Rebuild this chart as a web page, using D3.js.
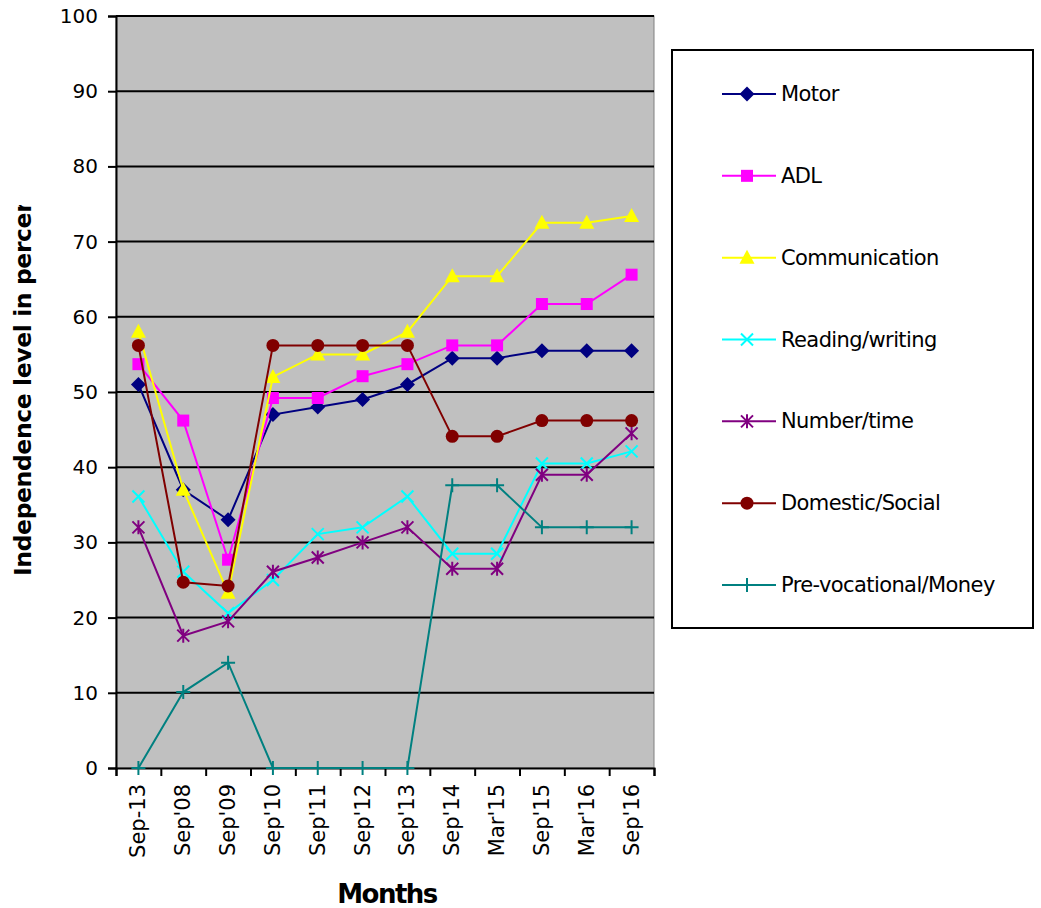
<!DOCTYPE html>
<html>
<head>
<meta charset="utf-8">
<script src="https://cdn.jsdelivr.net/npm/d3@7"></script>
<style>
  body { margin: 0; background: #fff; }
  text { font-family: "DejaVu Sans", Verdana, sans-serif; }
</style>
</head>
<body>
<div id="chart"></div>
<script>
// data
const months = ["Sep-13", "Sep'08", "Sep'09", "Sep'10", "Sep'11", "Sep'12", "Sep'13",
                "Sep'14", "Mar'15", "Sep'15", "Mar'16", "Sep'16"];
const seriesNames = ["Motor", "ADL", "Communication", "Reading/writing",
                     "Number/time", "Domestic/Social", "Pre-vocational/Money"];
const motor         = [51, 37, 33, 47, 48, 49, 51, 54.5, 54.5, 55.5, 55.5, 55.5];
const adl           = [53.7, 46.2, 27.7, 49.2, 49.2, 52.1, 53.7, 56.2, 56.2, 61.7, 61.7, 65.6];
const communication = [58, 37, 23.3, 52, 55, 55, 58, 65.4, 65.4, 72.5, 72.5, 73.4];
const reading       = [36.1, 26.1, 20.6, 25, 31.1, 32, 36.1, 28.5, 28.5, 40.5, 40.5, 42.1];
const numberTime    = [32, 17.6, 19.5, 26.1, 28, 30, 32, 26.5, 26.5, 39, 39, 44.5];
const domestic      = [56.2, 24.7, 24.2, 56.2, 56.2, 56.2, 56.2, 44.1, 44.1, 46.2, 46.2, 46.2];
const prevoc        = [0, 10.1, 14, 0, 0, 0, 0, 37.6, 37.6, 32, 32, 32];
const yTicks = [0, 10, 20, 30, 40, 50, 60, 70, 80, 90, 100];

const allValues = [motor, adl, communication, reading, numberTime, domestic, prevoc];
const colors = ["#000080", "#FF00FF", "#FFFF00", "#00FFFF", "#800080", "#800000", "#008080"];
const markers = ["diamond", "square", "triangle", "x", "star", "circle", "plus"];

const W = 1041, H = 908;
const plotL = 116, plotR = 654, plotT = 16, plotB = 768;

const svg = d3.select("#chart").append("svg")
  .attr("width", W).attr("height", H);

const x = d3.scaleBand().domain(months).range([plotL, plotR]);
const xIdx = d3.scaleLinear().domain([0, months.length]).range([plotL, plotR]);
const y = d3.scaleLinear().domain([0, 100]).range([plotB, plotT]);
const cx = m => x(m) + x.bandwidth() / 2;

// plot background
svg.append("rect")
  .attr("x", plotL).attr("y", plotT)
  .attr("width", plotR - plotL).attr("height", plotB - plotT)
  .attr("fill", "#C0C0C0")
  .attr("stroke", "#808080").attr("stroke-width", 1);

// gridlines
svg.append("g").selectAll("line")
  .data(yTicks.filter(t => t > 0))
  .join("line")
  .attr("x1", plotL).attr("x2", plotR)
  .attr("y1", d => y(d)).attr("y2", d => y(d))
  .attr("stroke", "#000").attr("stroke-width", 2);

// y axis
const yAxis = svg.append("g")
  .attr("transform", `translate(${plotL},0)`)
  .call(d3.axisLeft(y).tickValues(yTicks).tickSize(8).tickPadding(10));
yAxis.select(".domain").attr("stroke", "#000").attr("stroke-width", 2);
yAxis.selectAll(".tick line").attr("stroke", "#000").attr("stroke-width", 2);
yAxis.selectAll(".tick text").attr("font-size", 20).attr("fill", "#000")
  .attr("font-family", "DejaVu Sans, sans-serif");

// x axis: ticks at category boundaries
const xAxis = svg.append("g")
  .attr("transform", `translate(0,${plotB})`)
  .call(d3.axisBottom(xIdx).tickValues(d3.range(months.length + 1)).tickSize(8).tickFormat(""));
xAxis.select(".domain").attr("stroke", "#000").attr("stroke-width", 2);
xAxis.selectAll(".tick line").attr("stroke", "#000").attr("stroke-width", 2);

// x labels
svg.append("g").selectAll("text")
  .data(months)
  .join("text")
  .attr("transform", d => `translate(${cx(d) + 7},${plotB + 16}) rotate(-90)`)
  .attr("text-anchor", "end")
  .attr("font-size", 21)
  .attr("fill", "#000")
  .text(d => d);

// series lines and markers
const line = d3.line().x((d, i) => cx(months[i])).y(d => y(d));

function drawMarker(g, type, color, px, py) {
  if (type === "diamond") {
    g.append("path").attr("d", `M${px},${py - 7.5}L${px + 7.5},${py}L${px},${py + 7.5}L${px - 7.5},${py}Z`)
      .attr("fill", color);
  } else if (type === "square") {
    g.append("rect").attr("x", px - 6).attr("y", py - 6).attr("width", 12).attr("height", 12)
      .attr("fill", color);
  } else if (type === "triangle") {
    g.append("path").attr("d", `M${px},${py - 8}L${px + 7.5},${py + 6}L${px - 7.5},${py + 6}Z`)
      .attr("fill", color);
  } else if (type === "circle") {
    g.append("circle").attr("cx", px).attr("cy", py).attr("r", 6.5).attr("fill", color);
  } else if (type === "x") {
    g.append("path").attr("d", `M${px - 6},${py - 6}L${px + 6},${py + 6}M${px - 6},${py + 6}L${px + 6},${py - 6}`)
      .attr("stroke", color).attr("stroke-width", 2).attr("fill", "none");
  } else if (type === "star") {
    g.append("path").attr("d", `M${px - 6},${py - 6}L${px + 6},${py + 6}M${px - 6},${py + 6}L${px + 6},${py - 6}M${px},${py - 7}L${px},${py + 7}`)
      .attr("stroke", color).attr("stroke-width", 2).attr("fill", "none");
  } else if (type === "plus") {
    g.append("path").attr("d", `M${px - 7},${py}L${px + 7},${py}M${px},${py - 7}L${px},${py + 7}`)
      .attr("stroke", color).attr("stroke-width", 2).attr("fill", "none");
  }
}

allValues.forEach((vals, s) => {
  const g = svg.append("g");
  g.append("path")
    .datum(vals)
    .attr("d", line)
    .attr("fill", "none")
    .attr("stroke", colors[s])
    .attr("stroke-width", 2);
  vals.forEach((v, i) => drawMarker(g, markers[s], colors[s], cx(months[i]), y(v)));
});

// axis titles
svg.append("text")
  .attr("x", 387).attr("y", 903)
  .attr("text-anchor", "middle")
  .attr("font-size", 26).attr("font-weight", "bold")
  .attr("letter-spacing", -1.5)
  .attr("fill", "#000")
  .text("Months");

svg.append("clipPath").attr("id", "yclip")
  .append("rect").attr("x", 0).attr("y", 205).attr("width", 60).attr("height", 400);
svg.append("g")
  .attr("clip-path", "url(#yclip)")
  .append("text")
  .attr("transform", "translate(31,576) rotate(-90)")
  .attr("text-anchor", "start")
  .attr("font-size", 23.5).attr("font-weight", "bold")
  .attr("letter-spacing", -0.4)
  .attr("fill", "#000")
  .text("Independence level in percentage");

// legend
const legend = svg.append("g");
legend.append("rect")
  .attr("x", 672).attr("y", 50).attr("width", 361).attr("height", 578)
  .attr("fill", "#fff").attr("stroke", "#000").attr("stroke-width", 2);
const legendY = d3.scalePoint().domain(seriesNames).range([94, 585]);
seriesNames.forEach((name, s) => {
  const ly = legendY(name);
  legend.append("line")
    .attr("x1", 722).attr("x2", 776).attr("y1", ly).attr("y2", ly)
    .attr("stroke", colors[s]).attr("stroke-width", 2);
  drawMarker(legend, markers[s], colors[s], 747, ly);
  legend.append("text")
    .attr("x", 781).attr("y", ly + 7)
    .attr("font-size", 21)
    .attr("letter-spacing", -0.6)
    .attr("fill", "#000")
    .text(name);
});
</script>
</body>
</html>
